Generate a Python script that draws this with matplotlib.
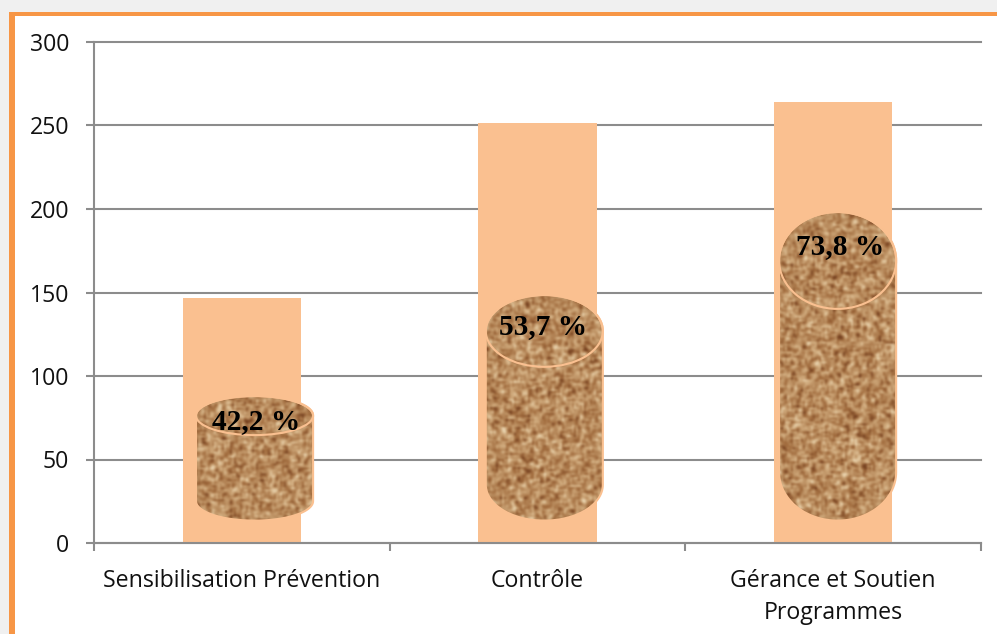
#!/usr/bin/env python3
"""Bars with cork-textured cylinders showing the achieved share."""

import matplotlib
matplotlib.use("Agg")
import matplotlib.pyplot as plt
import matplotlib.patches as mpatches
from matplotlib.colors import LinearSegmentedColormap
from matplotlib.path import Path
import numpy as np

CATEGORIES = ["Sensibilisation Prévention", "Contrôle", "Gérance et Soutien\nProgrammes"]
BAR_VALUES = [147, 251.5, 264]
Y_TICKS = [0, 50, 100, 150, 200, 250, 300]
CYL_LABELS = ["42,2 %", "53,7 %", "73,8 %"]
CYL_CENTERS = [0.043, 1.023, 2.015]
CYL_BOTTOMS = [13.4, 13.4, 13.4]
CYL_TOPS = [88, 148.5, 198.2]
CYL_CAPS = [23.4, 43, 58]
LABEL_X = [0.05, 1.02, 2.025]
LABEL_Y = [72.6, 129.5, 177.6]

BAR_COLOR = "#fac090"
AXIS_COLOR = "#8c8c8c"
W, H = 997, 634
LEFT, RIGHT, TOP, BOTTOM = 94, 981, 42, 543
CYL_WIDTH = 0.396


def cork_texture(rows, cols, seed):
    # hash-style grain, then a light blur so it looks like a scaled-up bitmap
    i, j = np.mgrid[0:rows, 0:cols]
    grain = np.sin(i * 12.9898 + j * 78.233 + seed) * 43758.5453
    grain = grain - np.floor(grain)
    soft = (
        grain * 3
        + np.roll(grain, 1, 0) + np.roll(grain, -1, 0)
        + np.roll(grain, 1, 1) + np.roll(grain, -1, 1)
    ) / 7
    soft = (soft - soft.mean()) / soft.std()
    return soft


def cylinder_path(cx, bottom, top, cap):
    # outline in data coordinates: upper half of top ellipse, lower half of bottom one
    t = np.linspace(0, np.pi, 60)
    rx = CYL_WIDTH / 2
    upper = np.c_[cx + rx * np.cos(t), top - cap / 2 + cap / 2 * np.sin(t)]
    lower = np.c_[cx - rx * np.cos(t), bottom + cap / 2 - cap / 2 * np.sin(t)]
    pts = np.vstack([upper, lower, upper[:1]])
    return Path(pts)


def main():
    fig = plt.figure(figsize=(W / 100, H / 100), dpi=100, facecolor="#f0f0f0")

    # white page with orange top/left rule
    fig.add_artist(mpatches.Rectangle((9 / W, 0), 1, 1 - 12 / H, transform=fig.transFigure,
                                      facecolor="#f79646", edgecolor="none", zorder=-2))
    fig.add_artist(mpatches.Rectangle((15 / W, 0), 1, 1 - 16 / H, transform=fig.transFigure,
                                      facecolor="white", edgecolor="none", zorder=-1))

    ax = fig.add_axes([LEFT / W, 1 - BOTTOM / H, (RIGHT - LEFT) / W, (BOTTOM - TOP) / H])
    ax.patch.set_alpha(0)
    ax.set_xlim(-0.5, 2.5)
    ax.set_ylim(0, 300)

    ax.yaxis.grid(True, color=AXIS_COLOR, linewidth=1.5, zorder=1, clip_on=False)
    ax.set_axisbelow(True)
    x = np.arange(len(CATEGORIES))
    ax.bar(x, BAR_VALUES, width=0.4, color=BAR_COLOR, zorder=2)

    cmap = LinearSegmentedColormap.from_list(
        "cork", ["#6e3a1c", "#a06a3c", "#b98c5e", "#d0aa7c", "#ecd8b4"]
    )
    for n, (cx, bottom, top, cap) in enumerate(zip(CYL_CENTERS, CYL_BOTTOMS, CYL_TOPS, CYL_CAPS)):
        path = cylinder_path(cx, bottom, top, cap)
        patch = mpatches.PathPatch(path, transform=ax.transData, facecolor="none",
                                   edgecolor=BAR_COLOR, linewidth=1.5, zorder=4)
        ax.add_patch(patch)
        rows = int((top - bottom) / 300 * (BOTTOM - TOP) / 2) + 1
        cols = int(CYL_WIDTH / 3 * (RIGHT - LEFT) / 2) + 1
        img = ax.imshow(
            cork_texture(rows, cols, n + 1), cmap=cmap, vmin=-2.6, vmax=2.6,
            extent=(cx - CYL_WIDTH / 2, cx + CYL_WIDTH / 2, bottom, top),
            interpolation="bicubic", aspect="auto", zorder=3,
        )
        img.set_clip_path(patch)
        ax.add_patch(mpatches.Ellipse((cx, top - cap / 2), CYL_WIDTH, cap, facecolor="none",
                                      edgecolor=BAR_COLOR, linewidth=1.5, zorder=4))

    # imshow resets limits
    ax.set_xlim(-0.5, 2.5)
    ax.set_ylim(0, 300)

    for lx, ly, txt in zip(LABEL_X, LABEL_Y, CYL_LABELS):
        ax.text(lx, ly, txt, ha="center", va="center", fontsize=21.2, fontweight="bold",
                family="Liberation Serif", color="black", zorder=5)

    for side in ("top", "right"):
        ax.spines[side].set_visible(False)
    for side in ("left", "bottom"):
        ax.spines[side].set_color(AXIS_COLOR)
        ax.spines[side].set_linewidth(1.5)
        ax.spines[side].set_zorder(6)

    ax.set_yticks(Y_TICKS)
    ax.set_xticks([-0.5, 0.5, 1.5, 2.5])
    ax.set_xticklabels([])
    ax.set_xticks(x, minor=True)
    ax.set_xticklabels(CATEGORIES, minor=True, fontsize=16.7, family="Open Sans",
                       color="#111111", linespacing=1.45)
    ax.tick_params(axis="x", which="minor", length=0, pad=19)
    ax.tick_params(axis="x", which="major", length=6, width=1.5, color=AXIS_COLOR)
    ax.tick_params(axis="y", length=6, width=1.5, color=AXIS_COLOR, labelsize=16.7,
                   labelcolor="#111111", pad=12)
    for lab in ax.get_yticklabels():
        lab.set_family("Open Sans")

    fig.savefig("out.png", dpi=100, facecolor=fig.get_facecolor())
    plt.close(fig)


if __name__ == "__main__":
    main()
